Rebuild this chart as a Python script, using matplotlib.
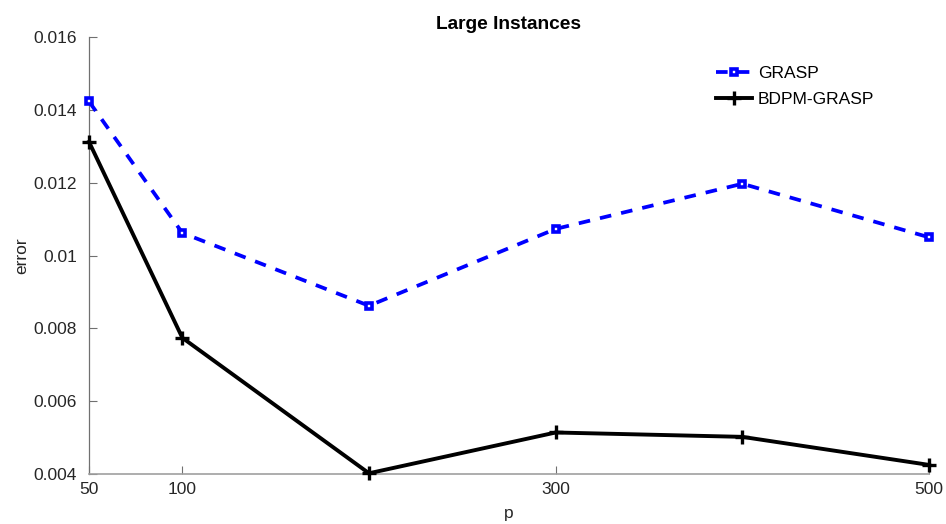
import matplotlib
matplotlib.use("Agg")
import matplotlib.pyplot as plt

p_values = [50, 100, 200, 300, 400, 500]
grasp_err = [0.01423, 0.01062, 0.00862, 0.01073, 0.01197, 0.01050]
bdpm_err = [0.01312, 0.00774, 0.00402, 0.00514, 0.00502, 0.00425]
x_ticks = [50, 100, 300, 500]
y_ticks = [0.004, 0.006, 0.008, 0.01, 0.012, 0.014, 0.016]
y_tick_labels = ["0.004", "0.006", "0.008", "0.01", "0.012", "0.014", "0.016"]

plt.rcParams['font.family'] = ['Liberation Sans', 'DejaVu Sans']

W, H = 946, 524
fig = plt.figure(figsize=(W / 100, H / 100), dpi=100)
ax = fig.add_axes([89/W, 1-474/H, (929-89)/W, (474-37)/H])

ax.plot(p_values, grasp_err, color='#0000ff', linestyle=(0, (3.1, 2.7)), linewidth=2.7,
        marker='s', markersize=4.5, markerfacecolor='white', markeredgecolor='#0000ff',
        markeredgewidth=2.6, label='GRASP', clip_on=False, zorder=3)
ax.plot(p_values, bdpm_err, color='black', linestyle='-', linewidth=2.8,
        marker='+', markersize=9.5, markeredgewidth=2.4, label='BDPM-GRASP',
        clip_on=False, zorder=3)

ax.set_xlim(50, 500)
ax.set_ylim(0.004, 0.016)
ax.set_xticks(x_ticks)
ax.set_xticklabels([str(v) for v in x_ticks])
ax.set_yticks(y_ticks)
ax.set_yticklabels(y_tick_labels)

for s in ['top', 'right']:
    ax.spines[s].set_visible(False)
ax.spines['left'].set_color('#707070')
ax.spines['bottom'].set_color('#a0a0a0')
ax.spines['left'].set_linewidth(0.9)
ax.spines['bottom'].set_linewidth(1.2)

ax.tick_params(axis='both', direction='in', length=6, width=0.8, colors='#707070',
               labelcolor='#262626', labelsize=12.5)
ax.tick_params(axis='x', pad=6)
ax.tick_params(axis='y', pad=8.5)

ax.set_title('Large Instances', fontsize=13.8, fontweight='bold', pad=5.8)
ax.set_xlabel('p', fontsize=12.5, color='#262626', labelpad=6)
ax.set_ylabel('error', fontsize=12.5, color='#262626', labelpad=3)

leg = ax.legend(loc='upper left', bbox_to_anchor=(716/W, 1-66/H),
                bbox_transform=fig.transFigure, frameon=False, borderpad=0,
                borderaxespad=0, fontsize=12.5, handlelength=2.1,
                handletextpad=0.3, labelspacing=0.62)

fig.savefig('out.png', dpi=100)
